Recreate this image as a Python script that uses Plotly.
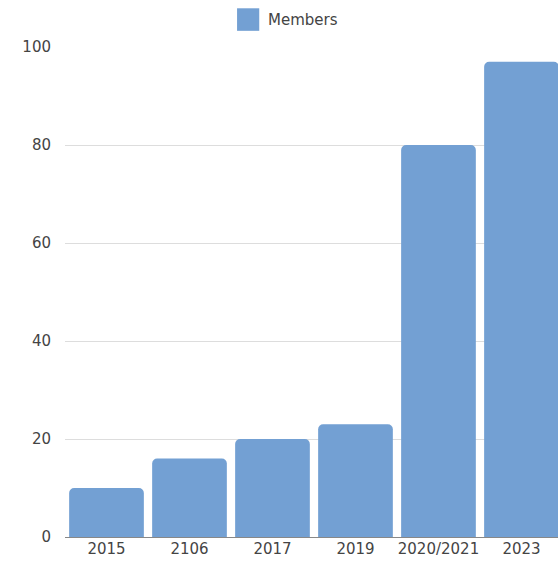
import plotly.graph_objects as go

years = ["2015", "2106", "2017", "2019", "2020/2021", "2023"]
members = [10, 16, 20, 23, 80, 97]
y_ticks = [0, 20, 40, 60, 80, 100]

bar_color = "#73a0d3"
text_color = "#444444"

fig = go.Figure()
fig.add_trace(go.Bar(
    x=years,
    y=members,
    name="Members",
    marker=dict(color=bar_color, line=dict(width=0)),
    showlegend=False,
))

# legend key drawn as a square swatch with its label
fig.add_shape(type="rect", xref="paper", yref="paper",
              x0=0.349, x1=0.394, y0=1.033, y1=1.079,
              fillcolor=bar_color, line=dict(width=0))
fig.add_annotation(text="Members", xref="paper", yref="paper",
                   x=0.408, y=1.056, xanchor="left", yanchor="middle",
                   showarrow=False, font=dict(size=15, color=text_color))

fig.update_layout(
    width=558, height=567,
    margin=dict(l=65, r=0, t=47, b=30),
    plot_bgcolor="white", paper_bgcolor="white",
    font=dict(family="DejaVu Sans, sans-serif", size=15, color=text_color),
    bargap=0.1,
    barcornerradius=5,
    xaxis=dict(range=[-0.5, 5.44], showgrid=False, showline=False, ticks="",
               tickfont=dict(size=15), ticklabelstandoff=1),
    yaxis=dict(range=[0, 100], tickvals=y_ticks, showgrid=True,
               gridcolor="#dddddd", gridwidth=1, zeroline=True,
               zerolinecolor="#888888", zerolinewidth=1,
               ticks="", ticklabelstandoff=13, tickfont=dict(size=15)),
)

fig.write_html("out.html")
